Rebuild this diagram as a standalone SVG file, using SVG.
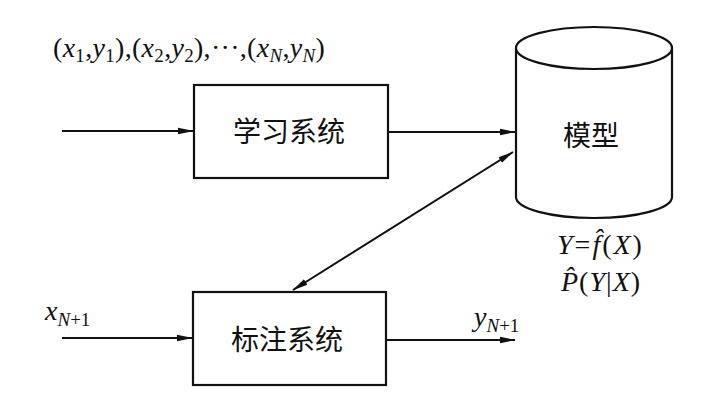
<svg xmlns="http://www.w3.org/2000/svg" width="712" height="410" viewBox="0 0 712 410">
<style>
.box{fill:#fff;stroke:#111;stroke-width:2.2}
.ln{fill:none;stroke:#111;stroke-width:2}
.cn{font-family:"Noto Sans CJK SC","Noto Sans CJK JP",sans-serif;font-size:28px;fill:#111;text-anchor:middle}
.m{font-family:"Liberation Serif","Times New Roman",serif;font-size:28px;fill:#111}
.i{font-style:italic}
.s{font-size:19px}
</style>
<defs>
<marker id="ah" markerWidth="16" markerHeight="8" refX="15" refY="4" orient="auto-start-reverse" markerUnits="userSpaceOnUse">
<path d="M0,0.8 L16,4 L0,7.2 Z" fill="#111"/>
</marker>
</defs>
<rect width="712" height="410" fill="#fff"/>
<g id="connectors">
<line class="ln" x1="62" y1="131" x2="193" y2="131" marker-end="url(#ah)"/>
<line class="ln" x1="389" y1="132" x2="515" y2="132" marker-end="url(#ah)"/>
<line class="ln" x1="513" y1="152" x2="293" y2="290" marker-start="url(#ah)" marker-end="url(#ah)"/>
<line class="ln" x1="62" y1="338" x2="192" y2="338" marker-end="url(#ah)"/>
<line class="ln" x1="387" y1="340" x2="515" y2="340" marker-end="url(#ah)"/>
</g>
<g id="learn">
<rect class="box" x="194" y="85" width="194" height="93"/>
<text class="cn" x="289" y="142">学习系统</text>
</g>
<g id="label">
<rect class="box" x="193" y="292" width="193" height="93"/>
<text class="cn" x="287" y="350">标注系统</text>
</g>
<g id="model">
<path class="box" d="M516,48 L516,197 A78,21 0 0 0 672,197 L672,48"/>
<ellipse class="box" cx="594" cy="48" rx="78" ry="21"/>
<text class="cn" x="591" y="146">模型</text>
</g>
<g id="texts">
<text class="m" x="53" y="57" letter-spacing="0.3">(<tspan class="i">x</tspan><tspan class="s" dy="5">1</tspan><tspan dy="-5">,</tspan><tspan class="i">y</tspan><tspan class="s" dy="5">1</tspan><tspan dy="-5">),(</tspan><tspan class="i">x</tspan><tspan class="s" dy="5">2</tspan><tspan dy="-5">,</tspan><tspan class="i">y</tspan><tspan class="s" dy="5">2</tspan><tspan dy="-5">),···,(</tspan><tspan class="i">x</tspan><tspan class="s i" dy="5">N</tspan><tspan dy="-5">,</tspan><tspan class="i">y</tspan><tspan class="s i" dy="5">N</tspan><tspan dy="-5">)</tspan></text>
<text class="m" x="45" y="320"><tspan class="i">x</tspan><tspan class="s" dy="6"><tspan class="i">N</tspan>+1</tspan></text>
<text class="m" x="474" y="326"><tspan class="i">y</tspan><tspan class="s" dy="6"><tspan class="i">N</tspan>+1</tspan></text>
<text class="m" x="557" y="254" letter-spacing="2"><tspan class="i">Y</tspan>=<tspan class="i">f̂</tspan>(<tspan class="i">X</tspan>)</text>
<text class="m" x="561" y="291" letter-spacing="1"><tspan class="i">P̂</tspan>(<tspan class="i">Y</tspan>|<tspan class="i">X</tspan>)</text>
</g>
</svg>
